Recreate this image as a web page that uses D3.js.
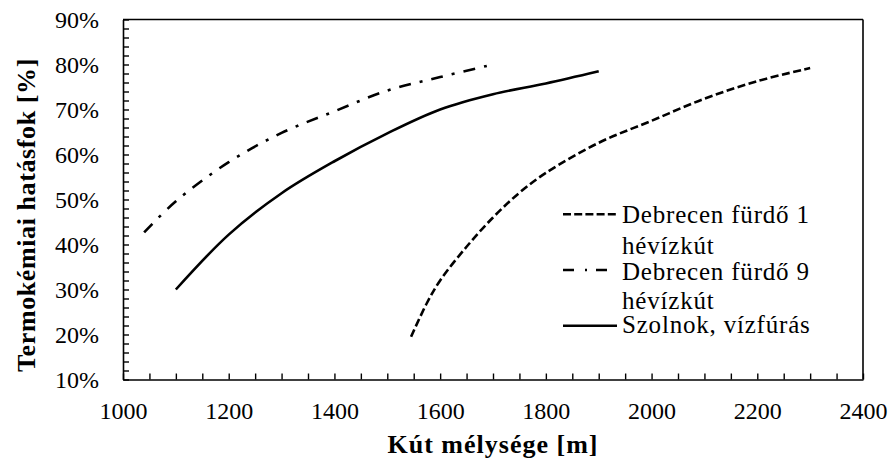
<!DOCTYPE html>
<html>
<head>
<meta charset="utf-8">
<script src="https://cdn.jsdelivr.net/npm/d3@7"></script>
<style>
  html, body { margin: 0; padding: 0; background: #fff; }
  svg { display: block; }
  text { font-family: "Liberation Serif", "Times New Roman", serif; fill: #000; }
</style>
</head>
<body>
<svg id="chart" width="895" height="469"></svg>
<script>
// ---- data ----
const xTickLabels = [1000, 1200, 1400, 1600, 1800, 2000, 2200, 2400];
const yTickLabels = [0.1, 0.2, 0.3, 0.4, 0.5, 0.6, 0.7, 0.8, 0.9];

const seriesNames = ["Debrecen fürdő 1 hévízkút", "Debrecen fürdő 9 hévízkút", "Szolnok, vízfúrás"];

const depthDeb1 = [1545, 1575, 1600, 1650, 1700, 1750, 1800, 1900, 2000, 2100, 2200, 2300];
const effDeb1   = [0.195, 0.27, 0.32, 0.395, 0.46, 0.515, 0.559, 0.626, 0.675, 0.724, 0.763, 0.792];

const depthDeb9 = [1040, 1100, 1200, 1300, 1400, 1500, 1600, 1700];
const effDeb9   = [0.427, 0.496, 0.583, 0.648, 0.696, 0.742, 0.772, 0.800];

const depthSzol = [1100, 1200, 1300, 1400, 1500, 1600, 1700, 1800, 1900];
const effSzol   = [0.300, 0.422, 0.514, 0.585, 0.647, 0.700, 0.734, 0.758, 0.785];

// ---- layout ----
const svg = d3.select("#chart");
const L = 123, R = 863, T = 19.5, B = 379.5;

const x = d3.scaleLinear().domain([1000, 2400]).range([L, R]);
const y = d3.scaleLinear().domain([0.1, 0.9]).range([B, T]);

// plot area border (top & right)
svg.append("line").attr("x1", L).attr("x2", R).attr("y1", T).attr("y2", T)
  .attr("stroke", "#000").attr("stroke-width", 1.6);
svg.append("line").attr("x1", R).attr("x2", R).attr("y1", T).attr("y2", B)
  .attr("stroke", "#000").attr("stroke-width", 1.6);

// x axis
const xAxis = d3.axisBottom(x)
  .tickValues(d3.range(1000, 2401, 50))
  .tickFormat(d => (xTickLabels.includes(d) ? String(d) : ""))
  .tickSizeInner(-6).tickSizeOuter(0).tickPadding(0);
const gx = svg.append("g").attr("transform", `translate(0,${B})`).call(xAxis);
gx.select(".domain").attr("stroke", "#000").attr("stroke-width", 1.6);
gx.selectAll(".tick line").attr("stroke", "#000").attr("stroke-width", 1.4);
gx.selectAll(".tick text").attr("y", 39.5).attr("dy", 0)
  .style("font-size", "24px").style("font-family", "'Liberation Serif', serif").attr("fill", "#000");

// y axis
const yAxis = d3.axisLeft(y)
  .tickValues(d3.range(0, 41).map(i => 0.1 + i * 0.02))
  .tickFormat(d => (yTickLabels.some(v => Math.abs(v - d) < 1e-9) ? Math.round(d * 100) + "%" : ""))
  .tickSizeInner(-6).tickSizeOuter(0).tickPadding(24);
const gy = svg.append("g").attr("transform", `translate(${L},0)`).call(yAxis);
gy.select(".domain").attr("stroke", "#000").attr("stroke-width", 1.6);
gy.selectAll(".tick line").attr("stroke", "#000").attr("stroke-width", 1.4);
gy.selectAll(".tick text").attr("dy", "0.33em")
  .style("font-size", "24px").style("font-family", "'Liberation Serif', serif").attr("fill", "#000");

// axis titles
svg.append("text")
  .attr("x", (L + R) / 2).attr("y", 453)
  .attr("text-anchor", "middle")
  .style("font-size", "26px").style("font-weight", "bold").style("letter-spacing", "1px")
  .text("Kút mélysége [m]");

svg.append("text")
  .attr("transform", "translate(35,215) rotate(-90)")
  .attr("text-anchor", "middle")
  .style("font-size", "26px").style("font-weight", "bold").style("letter-spacing", "0.6px")
  .text("Termokémiai hatásfok [%]");

// series
const line = d3.line().x(d => x(d[0])).y(d => y(d[1])).curve(d3.curveCatmullRom.alpha(0.5));
const styles = [
  { dash: "8,3.5" },
  { dash: "12,9,3,9" },
  { dash: null }
];
const data = [
  d3.zip(depthDeb1, effDeb1),
  d3.zip(depthDeb9, effDeb9),
  d3.zip(depthSzol, effSzol)
];
data.forEach((pts, i) => {
  const p = svg.append("path").datum(pts)
    .attr("d", line)
    .attr("fill", "none").attr("stroke", "#000").attr("stroke-width", 2.6)
    .attr("stroke-linecap", "butt");
  if (styles[i].dash) p.attr("stroke-dasharray", styles[i].dash);
});

// legend
const legend = [
  { sampleY: 214.3, x2: 617, lines: ["Debrecen fürdő 1", "hévízkút"], baseY: [222.5, 253.5] },
  { sampleY: 270, x2: 607, lines: ["Debrecen fürdő 9", "hévízkút"], baseY: [280, 308.5] },
  { sampleY: 325.7, x2: 617, lines: ["Szolnok, vízfúrás"], baseY: [333] }
];
const legendDash = ["8,3.2", "11,11,2,9", null];
legend.forEach((e, i) => {
  const l = svg.append("line").attr("x1", 563).attr("x2", e.x2)
    .attr("y1", e.sampleY).attr("y2", e.sampleY)
    .attr("stroke", "#000").attr("stroke-width", 2.6);
  if (legendDash[i]) l.attr("stroke-dasharray", legendDash[i]);
  e.lines.forEach((t, j) => {
    svg.append("text").attr("x", 622).attr("y", e.baseY[j])
      .style("font-size", "25px").style("letter-spacing", "0.8px")
      .text(t);
  });
});
</script>
</body>
</html>
